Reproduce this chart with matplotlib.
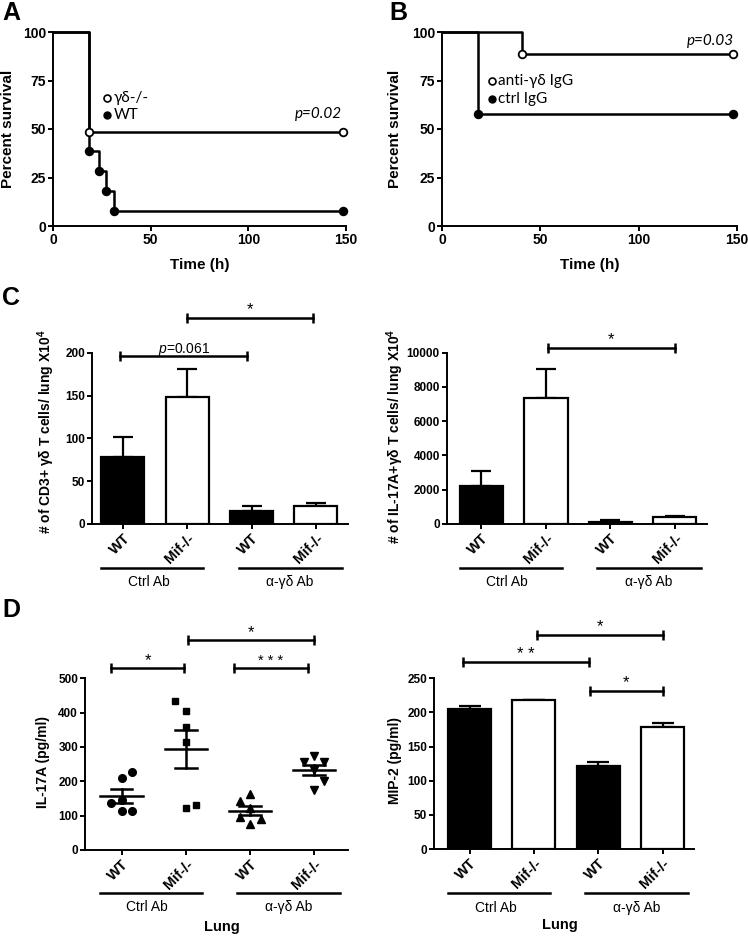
import matplotlib.pyplot as plt
import numpy as np

plt.rcParams['font.family'] = ['Liberation Sans', 'DejaVu Sans']
plt.rcParams['mathtext.fontset'] = 'custom'
plt.rcParams['mathtext.it'] = 'Liberation Sans:italic'
plt.rcParams['mathtext.rm'] = 'Liberation Sans'
plt.rcParams['mathtext.bf'] = 'Liberation Sans:bold'

# A: survival, gd-/- vs WT
a_ko_t = [0, 18.5, 148.5]
a_ko_s = [100, 48.5, 48.5]
a_wt_t = [0, 18.5, 23.5, 27, 31, 148.5]
a_wt_s = [100, 38.5, 28.5, 18, 7.5, 7.5]

# B: survival, anti-gd vs ctrl IgG
b_anti_t = [0, 40.5, 148]
b_anti_s = [100, 88.5, 88.5]
b_ctrl_t = [0, 18.5, 148]
b_ctrl_s = [100, 57.5, 57.5]

geno = ['WT', 'Mif-/-', 'WT', 'Mif-/-']
treat = ['Ctrl Ab', 'α-γδ Ab']
fills = ['black', 'white', 'black', 'white']

# C: cell counts (mean, sem)
c1_mean = [78.5, 148, 15, 21]
c1_sem = [22.5, 33, 6.5, 3]
c2_mean = [2200, 7330, 130, 390]
c2_sem = [910, 1720, 80, 95]

# D: IL-17A individual mice, MIP-2 bars
d1_pts = [[228, 210, 147, 138, 113.5, 113.5],
          [435, 406, 359, 315, 122, 132],
          [162, 144, 121, 97, 89, 76],
          [274, 256, 256, 233, 201, 175]]
d1_dx = [[0.17, 0, 0, -0.17, 0, 0.17],
         [-0.17, 0, 0, 0, 0, 0.16],
         [0, -0.16, 0, -0.16, 0.18, 0],
         [0, -0.16, 0.16, 0, 0.16, 0]]
d1_mark = ['o', 's', '^', 'v']
d2_mean = [205, 218, 122, 178]
d2_sem = [4, 0, 5, 6]

W, H = 748, 936
fig = plt.figure(figsize=(W / 100, H / 100), dpi=100)
LEG = ['Lato', 'DejaVu Sans']


def add_ax(l, r, t, b):
    return fig.add_axes([l / W, 1 - b / H, (r - l) / W, (b - t) / H])


def style(ax):
    for s in ['top', 'right']:
        ax.spines[s].set_visible(False)
    for s in ['left', 'bottom']:
        ax.spines[s].set_linewidth(1.4)
    ax.tick_params(direction='out', length=3.5, width=1.4, pad=1.5)


def bracket(ax, x1, x2, y, label, size=12, off=2.4):
    ax.plot([x1, x2], [y, y], color='k', lw=1.8, marker='|', ms=7, mew=1.8,
            clip_on=False)
    ax.annotate(label, ((x1 + x2) / 2, y), xytext=(0, off), textcoords='offset points',
                ha='center', va='baseline', fontsize=size, annotation_clip=False)


def cat_axis(ax, xl, lab_y, lung_x=None, lung_y=None):
    ax.set_xlim(*xl)
    ax.set_xticks(range(4), geno, rotation=45, ha='right', rotation_mode='anchor',
                  fontsize=10.5, fontweight='bold')
    tr = ax.get_xaxis_transform()
    for (x1, x2), tx, name in zip([(-0.34, 1.25), (1.8, 3.4)], [0.4, 2.6], treat):
        ax.plot([x1, x2], [lab_y[0], lab_y[0]], color='k', lw=1.8, transform=tr,
                clip_on=False)
        ax.text(tx, lab_y[1], name, transform=tr, ha='center', va='center', fontsize=10)
    if lung_x is not None:
        ax.text(lung_x, lung_y, 'Lung', transform=tr, ha='center', va='center',
                fontsize=10.5, fontweight='bold')


def survival(ax, t, s, face):
    ax.step(t, s, where='post', color='k', lw=1.8, clip_on=False)
    ax.plot(t[1:], s[1:], 'o', ms=5.5, mfc=face, mec='k', mew=1.3, clip_on=False)


def surv_axes(ax, ylab_x):
    ax.set_xlim(0, 150)
    ax.set_ylim(0, 100)
    ax.set_xticks([0, 50, 100, 150], ['0', '50', '100', '150'], fontsize=10,
                  fontweight='bold')
    ax.set_yticks([0, 25, 50, 75, 100], ['0', '25', '50', '75', '100'], fontsize=10,
                  fontweight='bold')
    ax.set_ylabel('Percent survival', fontsize=11, fontweight='bold')
    ax.set_xlabel('Time (h)', fontsize=11, fontweight='bold')
    ax.yaxis.set_label_coords(ylab_x, 0.5)
    ax.xaxis.set_label_coords(0.5, -0.165)


# ---- A ----
ax = add_ax(53, 346, 32, 226)
style(ax)
survival(ax, a_wt_t, a_wt_s, 'black')
survival(ax, a_ko_t, a_ko_s, 'white')
surv_axes(ax, -0.13)
ax.plot([27.6], [66], 'o', ms=5, mfc='white', mec='k', mew=1.2, clip_on=False)
ax.plot([27.6], [57.2], 'o', ms=5, mfc='black', mec='k', clip_on=False)
ax.text(30.9, 66, 'γδ-/-', va='center', fontsize=11, family=LEG)
ax.text(30.9, 57.2, 'WT', va='center', fontsize=11, family=LEG)
ax.text(148, 57.5, 'p=0.02', ha='right', va='center', fontsize=11, style='italic',
        family=LEG)

# ---- B ----
ax = add_ax(442, 737, 32, 226)
style(ax)
survival(ax, b_ctrl_t, b_ctrl_s, 'black')
survival(ax, b_anti_t, b_anti_s, 'white')
surv_axes(ax, -0.135)
ax.plot([25.6], [74.7], 'o', ms=5, mfc='white', mec='k', mew=1.2, clip_on=False)
ax.plot([25.6], [65.5], 'o', ms=5, mfc='black', mec='k', clip_on=False)
ax.text(28.6, 74.7, 'anti-γδ IgG', va='center', fontsize=11, family=LEG)
ax.text(28.6, 65.5, 'ctrl IgG', va='center', fontsize=11, family=LEG)
ax.text(148.5, 95.5, 'p=0.03', ha='right', va='center', fontsize=11, style='italic',
        family=LEG)

# ---- C left ----
x = np.arange(4)
ax = add_ax(92, 348, 352.7, 524)
style(ax)
ax.bar(x, c1_mean, width=0.67, color=fills, edgecolor='k', lw=1.6, zorder=3)
ax.errorbar(x, c1_mean, yerr=[np.zeros(4), c1_sem], fmt='none', ecolor='k', elinewidth=1.6,
            capsize=7, capthick=1.6, zorder=2)
ax.set_ylim(0, 200)
ax.set_yticks([0, 50, 100, 150, 200], ['0', '50', '100', '150', '200'], fontsize=8.5,
              fontweight='bold')
ax.set_ylabel('# of CD3+ γδ T cells/ lung X10$^{\\mathbf{4}}$', fontsize=10,
              fontweight='bold')
ax.yaxis.set_label_coords(-0.138, 0.539)
cat_axis(ax, (-0.48, 3.5), (-0.257, -0.337))
bracket(ax, -0.04, 1.93, 196.5, '$p$=0.061', size=10, off=2)
bracket(ax, 1.0, 2.96, 241, '*')

# ---- C right ----
ax = add_ax(446.7, 707, 352.7, 524)
style(ax)
ax.bar(x, c2_mean, width=0.67, color=fills, edgecolor='k', lw=1.6, zorder=3)
ax.errorbar(x, c2_mean, yerr=[np.zeros(4), c2_sem], fmt='none', ecolor='k', elinewidth=1.6,
            capsize=7, capthick=1.6, zorder=2)
ax.set_ylim(0, 10000)
yt = [0, 2000, 4000, 6000, 8000, 10000]
ax.set_yticks(yt, [str(v) for v in yt], fontsize=8.5, fontweight='bold')
ax.set_ylabel('# of IL-17A+γδ T cells/ lung X10$^{\\mathbf{4}}$', fontsize=10,
              fontweight='bold')
ax.yaxis.set_label_coords(-0.158, 0.51)
cat_axis(ax, (-0.54, 3.5), (-0.257, -0.337))
bracket(ax, 1.03, 3.0, 10290, '*')

# ---- D left ----
ax = add_ax(85, 348, 678.3, 850)
style(ax)
for i, (pts, dx, m) in enumerate(zip(d1_pts, d1_dx, d1_mark)):
    pts = np.array(pts)
    ax.plot(i + np.array(dx), pts, m, color='k', ms=5.5 if m != 's' else 5, ls='none',
            zorder=3)
    mu = pts.mean()
    se = pts.std(ddof=1) / np.sqrt(len(pts))
    ax.plot([i - 0.33, i + 0.33], [mu, mu], color='k', lw=1.8, zorder=4)
    ax.plot([i, i], [mu - se, mu + se], color='k', lw=1.8, zorder=4)
    for yy in (mu - se, mu + se):
        ax.plot([i - 0.17, i + 0.17], [yy, yy], color='k', lw=1.8, zorder=4)
ax.set_ylim(0, 500)
yt = [0, 100, 200, 300, 400, 500]
ax.set_yticks(yt, [str(v) for v in yt], fontsize=8.5, fontweight='bold')
ax.set_ylabel('IL-17A (pg/ml)', fontsize=10, fontweight='bold')
ax.yaxis.set_label_coords(-0.133, 0.514)
cat_axis(ax, (-0.57, 3.53), (-0.252, -0.33), 1.56, -0.448)
bracket(ax, -0.16, 0.98, 530, '*')
bracket(ax, 1.76, 2.9, 530, '* * *', size=10.5)
bracket(ax, 1.03, 3.0, 611, '*')

# ---- D right ----
ax = add_ax(434, 694, 678.3, 849)
style(ax)
ax.bar(x, d2_mean, width=0.67, color=fills, edgecolor='k', lw=1.6, zorder=3)
ax.errorbar(x, d2_mean, yerr=[np.zeros(4), d2_sem], fmt='none', ecolor='k', elinewidth=1.6,
            capsize=8, capthick=1.6, zorder=2)
ax.set_ylim(0, 250)
yt = [0, 50, 100, 150, 200, 250]
ax.set_yticks(yt, [str(v) for v in yt], fontsize=8.5, fontweight='bold')
ax.set_ylabel('MIP-2 (pg/ml)', fontsize=10, fontweight='bold')
ax.yaxis.set_label_coords(-0.122, 0.517)
cat_axis(ax, (-0.555, 3.49), (-0.26, -0.346), 1.41, -0.445)
bracket(ax, 1.87, 3.0, 232, '*')
bracket(ax, -0.1, 1.85, 274, '* *')
bracket(ax, 1.04, 3.0, 314, '*')

# panel letters
for lab, px, py in [('A', 2, 20), ('B', 389, 20), ('C', 2, 305), ('D', 2, 617)]:
    fig.text(px / W, 1 - py / H, lab, fontsize=18, fontweight='bold', va='baseline')

fig.savefig('out.png', dpi=100)
